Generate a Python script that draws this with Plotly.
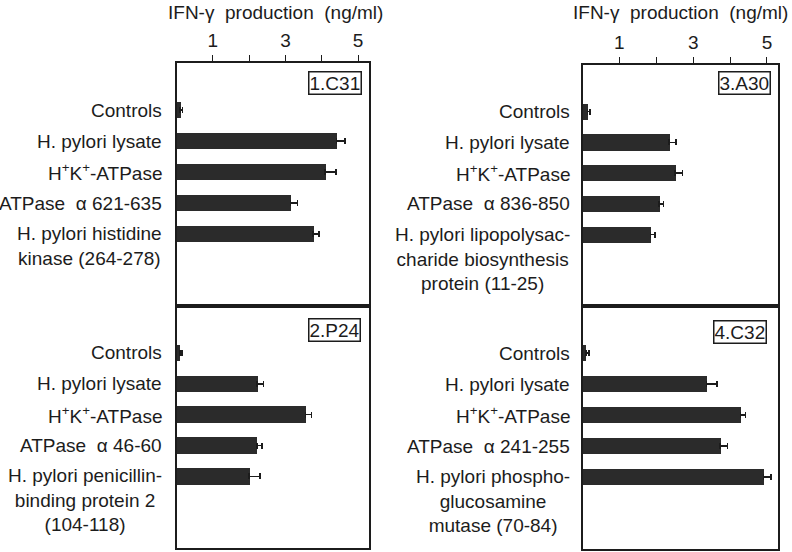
import plotly.graph_objects as go

W, H = 792, 552

# ---- data ----
labels_1 = ["Controls", "H. pylori lysate", "H<sup>+</sup>K<sup>+</sup>-ATPase", "ATPase  \u03b1 621-635",
            "H. pylori histidine<br>kinase (264-278)"]
values_1 = [0.10, 4.41, 4.09, 3.14, 3.76]
errors_1 = [0.07, 0.23, 0.30, 0.19, 0.16]

labels_2 = ["Controls", "H. pylori lysate", "H<sup>+</sup>K<sup>+</sup>-ATPase", "ATPase  \u03b1 46-60",
            "H. pylori penicillin-<br>binding protein 2<br>(104-118)"]
values_2 = [0.09, 2.22, 3.55, 2.21, 2.00]
errors_2 = [0.06, 0.17, 0.17, 0.14, 0.30]

labels_3 = ["Controls", "H. pylori lysate", "H<sup>+</sup>K<sup>+</sup>-ATPase", "ATPase  \u03b1 836-850",
            "H. pylori lipopolysac-<br>charide biosynthesis<br>protein (11-25)"]
values_3 = [0.14, 2.35, 2.51, 2.08, 1.84]
errors_3 = [0.06, 0.18, 0.20, 0.12, 0.12]

labels_4 = ["Controls", "H. pylori lysate", "H<sup>+</sup>K<sup>+</sup>-ATPase", "ATPase  \u03b1 241-255",
            "H. pylori phospho-<br>glucosamine<br>mutase (70-84)"]
values_4 = [0.09, 3.36, 4.29, 3.73, 4.91]
errors_4 = [0.08, 0.29, 0.13, 0.20, 0.20]

panel_names = ["1.C31", "2.P24", "3.A30", "4.C32"]
x_title = "IFN-\u03b3  production  (ng/ml)"
tick_vals = [1, 2, 3, 4, 5]
tick_text = ["1", "", "3", "", "5"]

FONT = "Liberation Sans, Arial, sans-serif"
INK = "#1c1c1c"
BAR = "#2b2b2b"
FS = 19


def px(x):
    return x / W


def py(y):
    return 1 - y / H


panels = [
    (labels_1, values_1, errors_1),
    (labels_2, values_2, errors_2),
    (labels_3, values_3, errors_3),
    (labels_4, values_4, errors_4),
]

# pixel geometry: (left, right, top, bottom)
geom = [
    (176.5, 369, 63, 306),
    (176.5, 369, 306, 548),
    (582.5, 778, 65, 306),
    (582.5, 778, 306, 549),
]
label_right = [164, 164, 572, 572]
tag_right = [362, 361, 771, 767]
tag_top = [71, 318, 71, 320]

fig = go.Figure()
annotations = []

for i, (labs, vals, errs) in enumerate(panels):
    k = "" if i == 0 else str(i + 1)
    fig.add_trace(go.Bar(
        x=vals, y=list(range(len(vals))), orientation="h",
        width=0.53, marker=dict(color=BAR, line=dict(width=0)),
        error_x=dict(type="data", symmetric=False, array=errs,
                     arrayminus=[0] * len(errs), color=INK, thickness=1.5, width=3),
        xaxis="x" + k, yaxis="y" + k, showlegend=False, hoverinfo="skip",
    ))
    l, r, t, b = geom[i]
    top_panel = i in (0, 2)
    xa = dict(domain=[px(l), px(r)], range=[0, 5.3], anchor="y" + k,
              showline=True, linewidth=2, linecolor=INK, mirror=True,
              showgrid=False, zeroline=False, fixedrange=True)
    if top_panel:
        xa.update(side="top", ticks="outside", ticklen=6, tickwidth=1.2, tickcolor=INK,
                  tickvals=tick_vals, ticktext=tick_text,
                  tickfont=dict(family=FONT, size=FS, color=INK))
    else:
        xa.update(showticklabels=False, ticks="")
    ya = dict(domain=[py(b), py(t)], range=[6.32, -1.52], anchor="x" + k,
              showline=True, linewidth=2, linecolor=INK, mirror=True,
              showgrid=False, zeroline=False, showticklabels=False, ticks="",
              fixedrange=True)
    fig.update_layout(**{"xaxis" + k: xa, "yaxis" + k: ya})

    for j, lab in enumerate(labs):
        multi = "<br>" in lab
        annotations.append(dict(
            x=px(label_right[i]), xref="paper", y=j, yref="y" + k,
            text=lab, showarrow=False, xanchor="right",
            yanchor="top" if multi else "middle", yshift=13 if multi else 0,
            align="center", font=dict(family=FONT, size=FS, color=INK),
        ))
    annotations.append(dict(
        x=px(tag_right[i]), xref="paper", y=py(tag_top[i]), yref="paper",
        text=panel_names[i], showarrow=False, xanchor="right", yanchor="top",
        bordercolor=INK, borderwidth=1.5, borderpad=0, bgcolor="white",
        font=dict(family=FONT, size=FS, color=INK),
    ))

for cx in (275, 680):
    annotations.append(dict(
        x=px(cx), xref="paper", y=py(13), yref="paper", text=x_title,
        showarrow=False, xanchor="center", yanchor="middle",
        font=dict(family=FONT, size=FS, color=INK),
    ))

fig.update_layout(
    width=W, height=H, margin=dict(l=0, r=0, t=0, b=0),
    paper_bgcolor="white", plot_bgcolor="white",
    annotations=annotations, bargap=0,
)

# remove the page's default 8px body margin so the figure fills the window
fig.write_html("out.html", config={"displayModeBar": False},
               post_script="document.body.style.margin='0';")
